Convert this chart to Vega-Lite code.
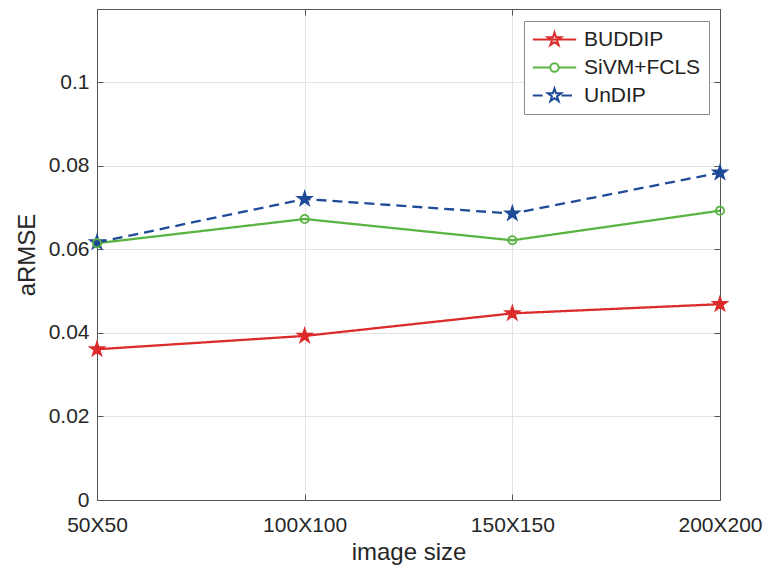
{
  "$schema": "https://vega.github.io/schema/vega-lite/v6.json",
  "width": 623,
  "height": 491,
  "autosize": "none",
  "padding": {"left": 97, "top": 9, "right": 49, "bottom": 68},
  "background": "white",
  "config": {
    "font": "Liberation Sans",
    "view": {"stroke": null},
    "axis": {"labelFont": "Liberation Sans", "titleFont": "Liberation Sans", "titleFontWeight": "normal", "labelColor": "#262626", "titleColor": "#262626", "domainColor": "#555555", "tickColor": "#555555", "gridColor": "#e3e3e3", "gridOpacity": 1}
  },
  "data": {
    "values": [
      {"size": 50, "series": "BUDDIP", "aRMSE": 0.0361},
      {"size": 100, "series": "BUDDIP", "aRMSE": 0.0393},
      {"size": 150, "series": "BUDDIP", "aRMSE": 0.0447},
      {"size": 200, "series": "BUDDIP", "aRMSE": 0.0469},
      {"size": 50, "series": "SiVM+FCLS", "aRMSE": 0.0615},
      {"size": 100, "series": "SiVM+FCLS", "aRMSE": 0.0673},
      {"size": 150, "series": "SiVM+FCLS", "aRMSE": 0.0622},
      {"size": 200, "series": "SiVM+FCLS", "aRMSE": 0.0693},
      {"size": 50, "series": "UnDIP", "aRMSE": 0.0617},
      {"size": 100, "series": "UnDIP", "aRMSE": 0.0721},
      {"size": 150, "series": "UnDIP", "aRMSE": 0.0686},
      {"size": 200, "series": "UnDIP", "aRMSE": 0.0784}
    ]
  },
  "resolve": {"axis": {"x": "independent", "y": "independent"}},
  "layer": [
    {
      "mark": {"type": "line", "strokeWidth": 2.3},
      "encoding": {
        "x": {"field": "size", "type": "quantitative", "scale": {"domain": [50, 200], "nice": false, "zero": false},
          "axis": {"values": [50, 100, 150, 200], "labelExpr": "datum.value + 'X' + datum.value", "title": "image size", "titleFontSize": 24, "labelFontSize": 21, "tickSize": -6, "labelPadding": 20, "titlePadding": 5, "grid": true, "labelFlush": false}},
        "y": {"field": "aRMSE", "type": "quantitative", "scale": {"domain": [0, 0.1176], "nice": false},
          "axis": {"values": [0, 0.02, 0.04, 0.06, 0.08, 0.1], "format": "~g", "title": "aRMSE", "titleFontSize": 24, "labelFontSize": 21, "tickSize": -6, "labelPadding": 14, "titlePadding": 9, "grid": true}},
        "stroke": {"field": "series", "type": "nominal", "scale": {"domain": ["UnDIP", "BUDDIP", "SiVM+FCLS"], "range": ["#1f4a97", "#dc2b2b", "#5ab443"]}, "legend": null},
        "strokeDash": {"field": "series", "type": "nominal", "scale": {"domain": ["SiVM+FCLS", "UnDIP", "BUDDIP"], "range": [[1, 0], [10, 6], [1, 0]]}, "legend": null}
      }
    },
    {
      "transform": [{"filter": "datum.series != 'SiVM+FCLS'"}],
      "mark": {"type": "point", "strokeWidth": 1.5, "opacity": 1, "size": 225, "shape": "M0,-1L0.2245,-0.309L0.951,-0.309L0.363,0.118L0.588,0.809L0,0.382L-0.588,0.809L-0.363,0.118L-0.951,-0.309L-0.2245,-0.309Z"},
      "encoding": {
        "x": {"field": "size", "type": "quantitative", "axis": null},
        "y": {"field": "aRMSE", "type": "quantitative", "axis": null},
        "stroke": {"field": "series", "type": "nominal", "legend": null},
        "fill": {"field": "series", "type": "nominal", "scale": {"domain": ["SiVM+FCLS", "BUDDIP", "UnDIP"], "range": ["transparent", "#dc2b2b", "#1f4a97"]}, "legend": null}
      }
    },
    {
      "transform": [{"filter": "datum.series == 'SiVM+FCLS'"}],
      "mark": {"type": "point", "strokeWidth": 1.8, "opacity": 1, "size": 225, "filled": false, "shape": "M0.55,0A0.55,0.55 0 1,1 -0.55,0A0.55,0.55 0 1,1 0.55,0Z"},
      "encoding": {
        "x": {"field": "size", "type": "quantitative", "axis": null},
        "y": {"field": "aRMSE", "type": "quantitative", "axis": null},
        "stroke": {"field": "series", "type": "nominal", "legend": null}
      }
    },
    {
      "mark": {"type": "point", "opacity": 0, "strokeWidth": 2},
      "encoding": {
        "x": {"field": "size", "type": "quantitative", "axis": {"orient": "top", "values": [50, 100, 150, 200], "labels": false, "tickSize": -6, "grid": false, "title": null}},
        "y": {"field": "aRMSE", "type": "quantitative", "axis": {"orient": "right", "values": [0, 0.02, 0.04, 0.06, 0.08, 0.1], "labels": false, "tickSize": -6, "grid": false, "title": null}},
        "shape": {"field": "series", "type": "nominal", "scale": {"domain": ["BUDDIP", "SiVM+FCLS", "UnDIP"], "range": [
          "M-3.1,0H3.1M0,-1L0.2245,-0.309L0.951,-0.309L0.363,0.118L0.588,0.809L0,0.382L-0.588,0.809L-0.363,0.118L-0.951,-0.309L-0.2245,-0.309Z",
          "M-3.1,0H-0.6M0.6,0H3.1M0.6,0A0.6,0.6 0 1,1 -0.6,0A0.6,0.6 0 1,1 0.6,0Z",
          "M-3.1,0H-1.7M1.0,0H2.5M0,-1L0.2245,-0.309L0.951,-0.309L0.363,0.118L0.588,0.809L0,0.382L-0.588,0.809L-0.363,0.118L-0.951,-0.309L-0.2245,-0.309Z"
        ]},
          "legend": {"title": null, "orient": "none", "legendX": 427, "legendY": 12, "padding": 8, "symbolOffset": 12, "symbolSize": 196, "symbolStrokeWidth": 2, "labelFontSize": 21, "labelFont": "Liberation Sans", "labelColor": "#222222", "labelOffset": 19, "rowPadding": 6, "strokeColor": "#8c8c8c", "fillColor": "white", "symbolOpacity": 1,
            "symbolStrokeColor": {"expr": "scale('stroke', datum.value)"},
            "symbolFillColor": {"expr": "scale('fill', datum.value)"}}}
      }
    }
  ]
}
